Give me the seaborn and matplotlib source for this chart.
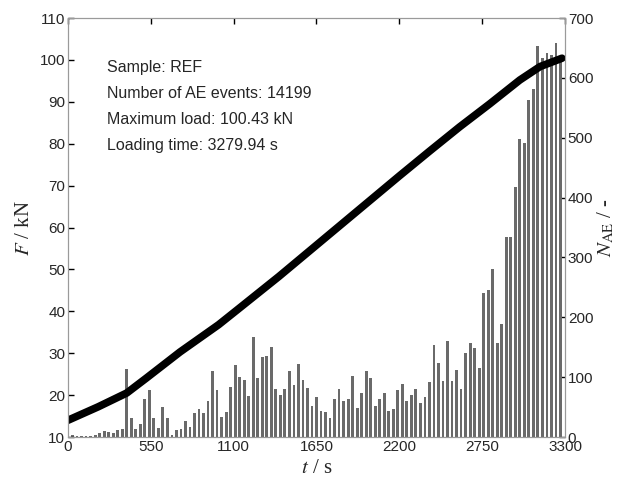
import numpy as np
import matplotlib
matplotlib.use("Agg")
import matplotlib.pyplot as plt
import seaborn as sns
import pandas as pd

# AE events per 30 s window
bin_t = [30, 60, 90, 120, 150, 180, 210, 240, 270, 300, 330, 360,
         390, 420, 450, 480, 510, 540, 570, 600, 630, 660, 690, 720, 750, 780, 810,
         840, 870, 900, 930, 960, 990, 1020, 1050, 1080, 1110,
         1140, 1170, 1200, 1230, 1260, 1290, 1320, 1350, 1380, 1410, 1440, 1470, 1500, 1530,
         1560, 1590, 1620, 1650, 1680, 1710, 1740, 1770, 1800, 1830, 1860, 1890, 1920, 1950, 1980,
         2010, 2040, 2070, 2100, 2130, 2160, 2190, 2220, 2250, 2280, 2310, 2340, 2370, 2400,
         2430, 2460, 2490, 2520, 2550, 2580, 2610, 2640, 2670, 2700, 2730, 2760, 2790, 2820,
         2850, 2880, 2910, 2940,
         2970, 3000, 3030, 3060, 3090, 3120, 3150, 3180, 3210, 3240, 3270]
ae_counts = [4, 1, 2, 2, 2, 3, 6, 10, 9, 6, 11, 13,
             113, 32, 13, 22, 64, 78, 32, 15, 50, 32, 3, 12, 14, 26, 17,
             40, 46, 40, 60, 111, 78, 33, 42, 84, 120,
             100, 95, 69, 167, 98, 133, 136, 151, 80, 71, 80, 111, 87, 122,
             95, 82, 51, 66, 44, 42, 31, 64, 80, 60, 64, 102, 49, 73, 111,
             98, 51, 64, 73, 44, 46, 78, 89, 60, 71, 80, 56, 67, 92,
             154, 123, 94, 161, 94, 112, 80, 141, 157, 149, 116, 240, 245, 280,
             157, 189, 334, 334,
             418, 498, 492, 563, 582, 654, 633, 641, 638, 658, 630]

# load curve
force_t = [0, 200, 390, 518, 744, 1000, 1129, 1400, 1600, 1800, 2000, 2200,
           2400, 2600, 2800, 3000, 3134, 3280]
force_kN = [14.0, 17.2, 20.5, 24.0, 30.3, 36.8, 40.5, 48.3, 54.3, 60.3, 66.3, 72.3,
            78.2, 84.0, 89.5, 95.2, 98.4, 100.4]

info = ["Sample: REF", "Number of AE events: 14199",
        "Maximum load: 100.43 kN", "Loading time: 3279.94 s"]
x_ticks = [0, 550, 1100, 1650, 2200, 2750, 3300]

sns.set_style("white")
plt.rcParams['font.family'] = ['Liberation Sans', 'DejaVu Sans']
plt.rcParams['mathtext.fontset'] = 'stix'

fig = plt.figure(figsize=(6.21, 4.84), dpi=100)
ax = fig.add_axes([0.1095, 0.0971, 0.8003, 0.8657])
ax2 = ax.twinx()

bars = pd.DataFrame({"t": bin_t, "n": ae_counts})
sns.barplot(data=bars, x="t", y="n", native_scale=True, width=0.62,
            color="#6a6a6a", saturation=1, errorbar=None, linewidth=0, ax=ax2)

load = pd.DataFrame({"t": force_t, "F": force_kN})
sns.lineplot(data=load, x="t", y="F", color="black", linewidth=5.5,
             solid_capstyle="round", ax=ax)

ax.set_zorder(ax2.get_zorder() + 1)
ax.patch.set_visible(False)

ax.set_xlim(0, 3300)
ax.set_ylim(10, 110)
ax2.set_ylim(0, 700)
ax.set_xticks(x_ticks)
ax.set_yticks(range(10, 111, 10))
ax2.set_yticks(range(0, 701, 100))

for a in (ax, ax2):
    for s in a.spines.values():
        s.set_color("#9a9a9a")
        s.set_linewidth(0.8)
ax.tick_params(axis="both", direction="in", length=4, width=1, color="black",
               labelsize=11, top=True, pad=2)
ax2.tick_params(axis="y", direction="in", length=4, width=1, color="black",
                labelsize=11, pad=2)

ax.set_xlabel(r"$t$ / s", fontsize=15, family="Liberation Serif", labelpad=4)
ax.set_ylabel(r"$F$ / kN", fontsize=15, family="Liberation Serif", labelpad=4)
ax2.set_ylabel(r"$N_{\mathrm{AE}}$ / -", fontsize=15, family="Liberation Serif",
               labelpad=2)

for i, line in enumerate(info):
    ax.text(0.0785, 0.881 - i * 0.0615, line, transform=ax.transAxes,
            fontsize=11.5, va="center", ha="left")

fig.savefig("out.png", dpi=100)
